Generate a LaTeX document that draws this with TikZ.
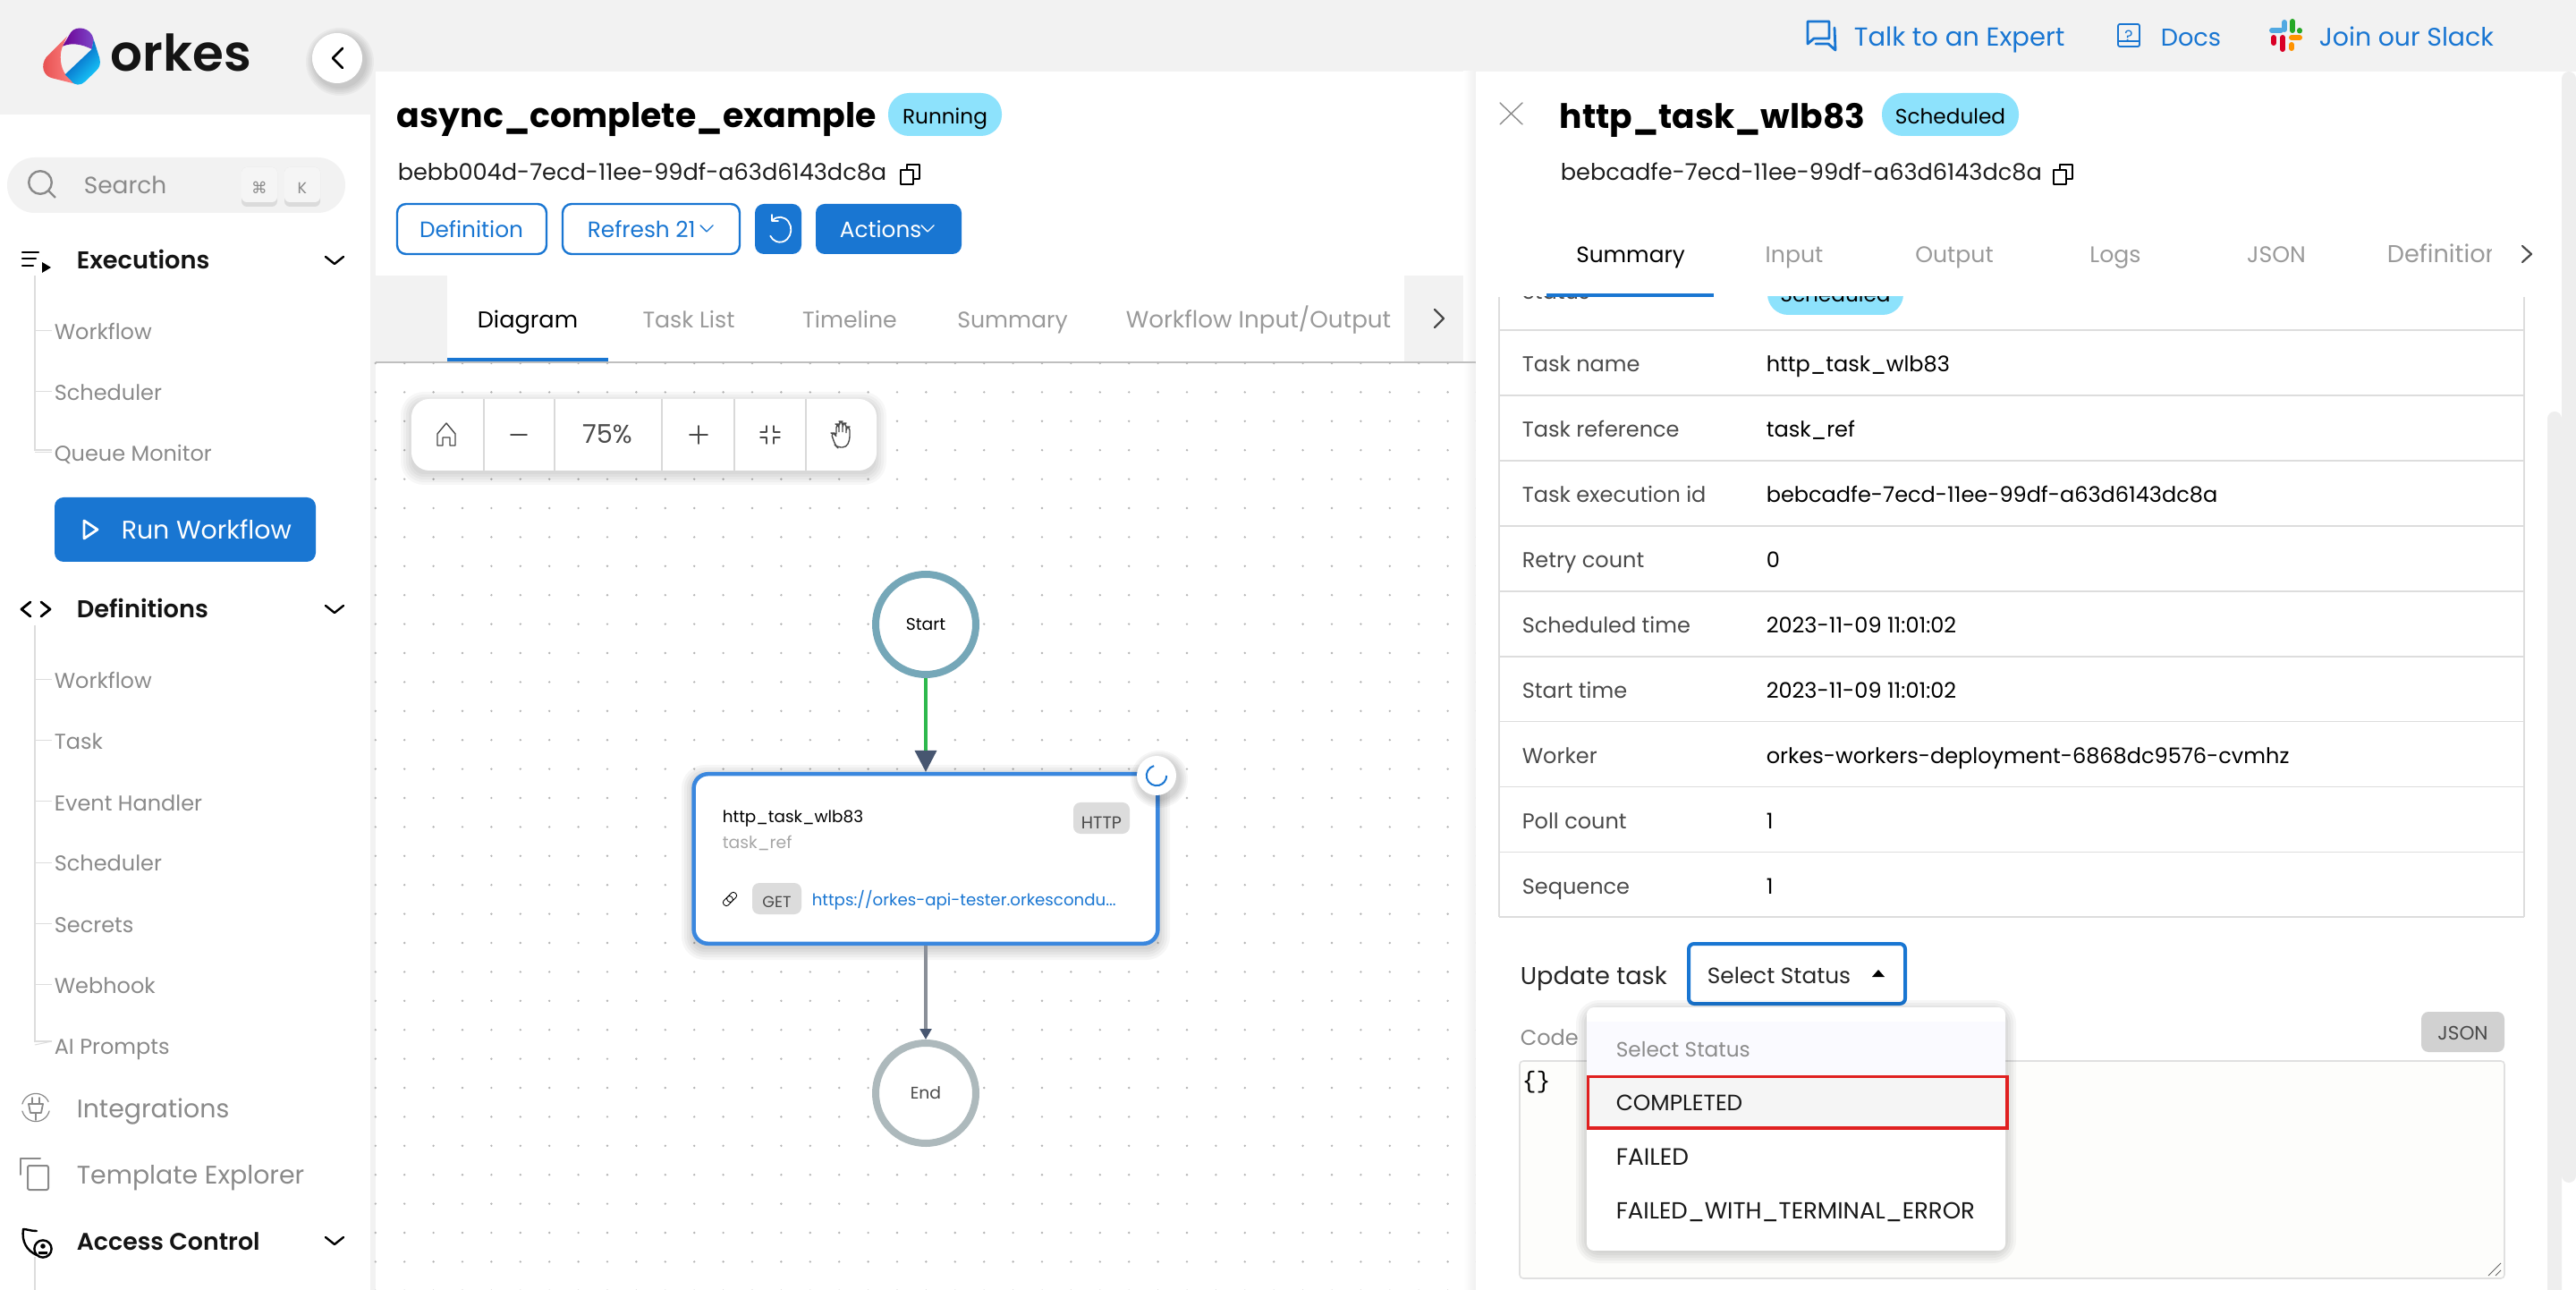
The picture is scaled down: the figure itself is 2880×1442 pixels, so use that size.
\documentclass[tikz,border=0pt]{standalone}
\usepackage{fontspec}
\setmainfont{Poppins}
\newfontfamily\symfont{DejaVu Sans}
\newfontfamily\monofont{Liberation Mono}
\newfontfamily\semifont{Poppins SemiBold}
\usetikzlibrary{
    arrows.meta,
    positioning
}
\definecolor{pagegrey}{HTML}{F2F2F2}
\definecolor{stripgrey}{HTML}{EEEEEE}
\definecolor{linegrey}{HTML}{DDDDDD}
\definecolor{badgegrey}{HTML}{DCDCDC}
\definecolor{softtext}{HTML}{8A8A8A}
\definecolor{tabtext}{HTML}{9A9A9A}
\definecolor{labeltext}{HTML}{4A4A4A}
\definecolor{inktext}{HTML}{141414}
\definecolor{orkesblue}{HTML}{1976D2}
\definecolor{taskblue}{HTML}{3A87DE}
\definecolor{pillblue}{HTML}{8DE2FC}
\definecolor{startring}{HTML}{75A7B8}
\definecolor{endring}{HTML}{ADB9BC}
\definecolor{tipslate}{HTML}{475670}
\definecolor{flowgreen}{HTML}{2DB84D}
\definecolor{flowgrey}{HTML}{8A8F98}
\definecolor{alertred}{HTML}{E02020}
\definecolor{griddot}{HTML}{B5B5B5}
\definecolor{codepaper}{HTML}{FDFDFB}
\tikzset{
    lbl/.style={inner sep=0pt,anchor=west,text height=.7em,text depth=0pt,yshift=1pt,font=\fontsize{#1}{#1}\selectfont},
    lbl/.default=6.2pt,
    lblc/.style={lbl=#1,anchor=center},
    lblc/.default=6.2pt,
    side/.style={lbl=6.0pt,softtext},
    head/.style={lbl=#1,font=\fontsize{#1}{#1}\semifont,inktext},
    head/.default=6.8pt,
    headsoft/.style={lbl=7.1pt,softtext},
    tabtxt/.style={lblc=6.3pt,tabtext},
    pill/.style={fill=pillblue,rounded corners=6pt},
    btnline/.style={draw=orkesblue,line width=.6pt,rounded corners=2.5pt,fill=white},
    btnfill/.style={fill=orkesblue,rounded corners=2.5pt},
    ringnode/.style={circle,draw=#1,line width=2pt,fill=white,minimum size=28pt,inner sep=0pt,
        font=\fontsize{4.7pt}{5pt}\selectfont},
    icon/.style={line width=.5pt,line cap=round,line join=round},
    treeln/.style={draw=linegrey,line width=.4pt},
    flow/.style={line width=.875pt}
}
% soft blurred edge under a box
\newcommand{\softbox}[5]{%
    \foreach \g in {2,5,8,11,14}
        \fill[black,opacity=#5,rounded corners={(\g*.25+3)*1pt}] ({#1-\g},{#2-\g+4}) rectangle ({#3+\g},{#4+\g+4});
}
\newcommand{\softdisc}[3]{%
    \foreach \g in {2,4,6,8,10}
        \fill[black,opacity=.035] (#1+3,#2+4) circle ({(#3+\g)*.25pt});
}
\newcommand{\copyicon}[2]{%
    \draw[icon,black,line width=.4pt] (#1+7,#2) rectangle (#1+21,#2+16);
    \draw[icon,black,fill=white,line width=.4pt] (#1,#2+6) rectangle (#1+14,#2+22);
}
\begin{document}
\begin{tikzpicture}[x=.25pt,y=-.25pt]
    \useasboundingbox (0,0) rectangle (2880,1442);
    \fill[pagegrey] (0,0) rectangle (2880,1442);
    % sidebar and main sheet
    \fill[white] (0,128) rectangle (414,1442);
    \fill[white] (420,80) rectangle (1650,1442);
    \fill[pagegrey] (420,308) rectangle (500,404);
    \fill[pagegrey] (1570,308) rectangle (1650,404);
    \shade[left color=white,right color=black!6] (1636,80) rectangle (1650,1442);

    % logo
    \begin{scope}[shift={(30,20)},scale=1/3]
        \shade[left color=red!55!pink!90!black,right color=red!50!white!90!pink]
            (135,62) -- (120,95) .. controls (108,125) and (112,165) .. (130,190)
            -- (165,222) -- (85,202) .. controls (55,195) and (45,160) .. (65,132) -- cycle;
        \shade[left color=violet!85!blue,right color=violet!60!white!70!blue]
            (120,95) -- (148,48) .. controls (165,25) and (215,30) .. (224,72) -- (218,105)
            .. controls (185,88) and (150,82) .. (120,95) -- cycle;
        \shade[left color=blue!60!cyan!70!black,right color=cyan!80!blue!90!white,shading angle=45]
            (224,72) -- (244,135) .. controls (248,155) and (245,165) .. (232,178)
            -- (195,214) .. controls (180,228) and (160,228) .. (148,210)
            -- (128,190) -- (218,105) -- cycle;
    \end{scope}
    \node[head=14.1pt,yshift=-2.2pt] (brand) at (123,61) {orkes};
    \softdisc{377}{65}{28}
    \node[circle,fill=white,minimum size=14pt,inner sep=0pt] (collapse) at (377,65) {};
    \draw[icon,line width=.7pt] (383,54) -- (372,65) -- (383,76);

    % search field
    \fill[pagegrey,rounded corners=7.7pt] (8,176) rectangle (386,238);
    \draw[softtext,line width=.6pt] (45,204) circle (3.2pt) (54,213) -- (62,221);
    \node[lbl=6.6pt,softtext] (searchtxt) at (93,207) {Search};
    \foreach \kx/\kname/\ktxt in {270/cmdkey/{\symfont ⌘},318/kkey/K}{
        \fill[black!14,rounded corners=1.5pt] (\kx,187) rectangle (\kx+40,231);
        \fill[black!4,rounded corners=1.5pt] (\kx,187) rectangle (\kx+40,226);
        \node[lblc=4.4pt,softtext] (\kname) at (\kx+20,207) {\ktxt};
    }

    % executions menu
    \draw[icon,line width=.55pt] (25,282) -- (43,282) (25,289) -- (40,289) (25,297) -- (37,297);
    \fill (47,293) -- (57,299) -- (47,305) -- cycle;
    \node[head] (execs) at (85,291) {Executions};
    \draw[icon,line width=.6pt] (364,287) -- (374,295) -- (384,287);
    \draw[treeln] (39,308) -- (39,503) -- (58,503);
    \foreach \ty/\tname/\ttxt in {370/exwf/Workflow,438/exsched/Scheduler,506/exqueue/Queue Monitor}{
        \draw[treeln,line width=.25pt] (39,\ty) -- (58,\ty);
        \node[side] (\tname) at (60,\ty) {\ttxt};
    }
    \fill[orkesblue,rounded corners=2.5pt] (61,556) rectangle (353,628);
    \draw[icon,white,line width=.7pt] (94,582) -- (109,592) -- (94,602) -- cycle;
    \node[lbl=7.1pt,white] (runwf) at (135,593) {Run Workflow};

    % definitions menu
    \draw[icon,line width=.7pt] (34,673) -- (24,681) -- (34,689) (46,673) -- (56,681) -- (46,689);
    \node[head] (defs) at (85,681) {Definitions};
    \draw[icon,line width=.6pt] (364,677) -- (374,685) -- (384,677);
    \draw[treeln] (39,699) -- (39,1164) -- (58,1164);
    \foreach \ty/\tname/\ttxt in {760/dfwf/Workflow,828/dftask/Task,896/dfevent/Event Handler,964/dfsched/Scheduler,1032/dfsec/Secrets,1100/dfhook/Webhook,1168/dfai/AI Prompts}{
        \draw[treeln,line width=.25pt] (39,\ty) -- (58,{min(\ty,1164)});
        \node[side] (\tname) at (60,\ty) {\ttxt};
    }

    % lower sidebar entries
    \draw[icon,softtext,line width=.3pt] (40,1238) ++(165:3.9pt) arc (165:25:3.9pt);
    \draw[icon,softtext,line width=.3pt] (40,1238) ++(-15:3.9pt) arc (-15:-165:3.9pt);
    \draw[icon,softtext,line width=.45pt] (32,1234) -- (48,1234) -- (46,1244) -- (34,1244) -- cycle
        (36,1227) -- (36,1234) (44,1227) -- (44,1234) (40,1244) -- (40,1252);
    \node[headsoft] (integ) at (85,1239) {Integrations};
    \draw[icon,softtext,line width=.5pt] (23,1313) -- (23,1295) -- (45,1295);
    \draw[icon,softtext,line width=.5pt,rounded corners=.5pt] (31,1303) rectangle (54,1330);
    \node[headsoft] (tmpl) at (85,1313) {Template Explorer};
    \draw[icon,line width=.6pt] (41,1376) .. controls (34,1376) and (30,1374) .. (26,1374)
        .. controls (24,1388) and (30,1398) .. (41,1403);
    \draw[icon,line width=.6pt] (48,1396) circle (2.4pt);
    \fill (48,1393) circle (.7pt) (43,1402) rectangle (53,1399);
    \node[head=6.7pt] (access) at (85,1387) {Access Control};
    \draw[icon,line width=.6pt] (364,1383) -- (374,1391) -- (384,1383);
    \draw[treeln] (39,1405) -- (39,1442);

    % top links
    \draw[icon,orkesblue,line width=.7pt] (2021,24) -- (2045,24) -- (2045,43) -- (2028,43) -- (2021,49) -- cycle;
    \draw[icon,orkesblue,line width=.7pt] (2051,31) -- (2052,56) -- (2044,49) -- (2030,49);
    \node[lbl=7.25pt,orkesblue] (talk) at (2072,42) {Talk to an Expert};
    \draw[icon,orkesblue,line width=.45pt,rounded corners=.5pt] (2368,27) rectangle (2392,52);
    \draw[icon,orkesblue,line width=.45pt] (2368,46) -- (2392,46);
    \node[lblc=4.4pt,orkesblue] (docsq) at (2380,37) {?};
    \node[lbl=6.8pt,orkesblue] (docs) at (2415,42) {Docs};
    \begin{scope}[line cap=round,line width=1.5pt]
        \draw[cyan!75!blue!70] (2540,34) -- (2550,34);
        \draw[cyan!75!blue!70] (2554,25) -- (2554,33);
        \draw[green!60!black!85] (2563,24) -- (2563,34);
        \draw[green!60!black!85] (2571,34) -- (2571,34.5);
        \draw[orange!85!yellow] (2562,42) -- (2571,42);
        \draw[orange!85!yellow] (2562,50) -- (2562,54);
        \draw[red!85!blue] (2542,42) -- (2542,48);
        \draw[red!85!blue] (2552,42) -- (2552,55);
    \end{scope}
    \node[lbl=7.1pt,orkesblue] (slack) at (2592,42) {Join our Slack};

    % workflow header
    \node[lbl=9.47pt,font=\fontsize{9.47pt}{9.47pt}\selectfont\bfseries,yshift=-1pt] (wftitle) at (443,129) {async\_complete\_example};
    \fill[pill,rounded corners=5.8pt] (993,104) rectangle (1120,152);
    \node[lblc=5.8pt] (wfstate) at (1056.5,129) {Running};
    \node[lbl=6.4pt,labeltext!40!black] (wfid) at (444,192) {bebb004d-7ecd-11ee-99df-a63d6143dc8a};
    \copyicon{1007}{184}
    \draw[btnline] (444,228) rectangle (611,284);
    \node[lblc=6.2pt,orkesblue] (btndef) at (527,256) {Definition};
    \draw[btnline] (629,228) rectangle (827,284);
    \node[lbl=6.2pt,orkesblue] (btnrefresh) at (656,256) {Refresh 21};
    \draw[icon,orkesblue,line width=.35pt] (783,252) -- (790,259) -- (797,252);
    \fill[btnfill] (844,228) rectangle (896,284);
    \draw[icon,white,line width=.45pt] (864,246) arc (130:-150:3.1pt and 3.5pt);
    \draw[icon,white,line width=.45pt] (863,240) -- (863,247) -- (870,247);
    \fill[btnfill] (912,228) rectangle (1075,284);
    \node[lbl=6.2pt,white] (btnact) at (938,256) {Actions};
    \draw[icon,white,line width=.35pt] (1030,252) -- (1037,259) -- (1044,252);

    % workflow tabs
    \node[lblc=6.4pt,black] (wtdiag) at (590,357) {Diagram};
    \foreach \tx/\tname/\ttxt in {770/wtlist/Task List,950/wttime/Timeline,1132/wtsum/Summary}{
        \node[tabtxt] (\tname) at (\tx,357) {\ttxt};
    }
    \node[tabtxt,font=\fontsize{6.55pt}{6.55pt}\selectfont] (wtio) at (1407,357) {Workflow Input/Output};
    \draw[icon,labeltext,line width=.55pt] (1604,346) -- (1614,356) -- (1604,366);
    \draw[black!25,line width=.5pt] (420,405) -- (1650,405);
    \fill[orkesblue] (500,400) rectangle (680,404);

    % canvas dots
    \foreach \gx in {0,...,38}
        \foreach \gy in {0,...,32}
            \fill[griddot] ({419.8+\gx*32.4},{406+\gy*32.4}) circle (.33pt);

    % zoom toolbar
    \softbox{462}{448}{977}{524}{.03}
    \fill[white,rounded corners=5pt] (460,446) rectangle (980,526);
    \foreach \dx in {541,620,740,821,901}
        \draw[black!15,line width=.35pt] (\dx,446) -- (\dx,526);
    \draw[icon,labeltext,line width=.35pt] (489,485) -- (499,473) -- (509,485) -- (509,498) -- (503,498) -- (503,489) -- (495,489) -- (495,498) -- (489,498) -- cycle;
    \draw[icon,labeltext,line width=.4pt] (571,486) -- (589,486);
    \node[lblc=7.2pt,labeltext] (zoomval) at (679,486) {75\%};
    \draw[icon,labeltext,line width=.4pt] (771,486) -- (791,486) (781,476) -- (781,496);
    \draw[icon,labeltext,line width=.35pt] (857,476) -- (857,483) -- (850,483) (865,476) -- (865,483) -- (872,483)
        (857,496) -- (857,489) -- (850,489) (865,496) -- (865,489) -- (872,489);
    \draw[icon,labeltext,line width=.35pt,rounded corners=1pt] (934,498) -- (929,484) -- (933,484) -- (935,488)
        -- (935,474) -- (938,474) -- (938,485) -- (938,471) -- (942,471) -- (942,485) -- (942,473) -- (946,473)
        -- (946,486) -- (946,477) -- (950,477) -- (950,492) -- (946,500) -- (936,500) -- cycle;

    % workflow graph
    \node[ringnode=startring] (start) at (1035,698) {Start};
    \softbox{776}{865}{1294}{1055}{.035}
    \node[draw=taskblue,line width=1.125pt,fill=white,rounded corners=4pt,minimum width=129.7pt,minimum height=47.4pt,inner sep=0pt] (task) at (1035,960) {};
    \node[ringnode=endring,text=labeltext] (end) at (1035,1222) {End};
    \draw[flow,flowgreen,-{Triangle[length=6pt,width=6pt,color=tipslate]}] (start) -- (task);
    \draw[flow,flowgrey,-{Triangle[length=3pt,width=3.2pt,color=tipslate]}] (task) -- (end);
    \softdisc{1293}{867}{22}
    \node[circle,fill=white,minimum size=11pt,inner sep=0pt] (spin) at (1293,867) {};
    \draw[orkesblue,line width=.5pt] (1293,867) ++(105:2.8pt) arc (105:360:2.8pt);
    \node[lbl=4.6pt] (taskname) at (807,909) {http\_task\_wlb83};
    \node[lbl=4.7pt,black!35] (taskref) at (807,938) {task\_ref};
    \fill[badgegrey,rounded corners=2pt] (1200,897) rectangle (1263,932);
    \node[lblc=4.8pt,labeltext,yshift=-.4pt] (taskkind) at (1231.5,915) {HTTP};
    \draw[icon,line width=.22pt,rounded corners=.7pt,rotate around={45:(816,1005)}] (807,1001.5) rectangle (819,1008.5) (813,1001.5) rectangle (825,1008.5);
    \fill[badgegrey,rounded corners=2pt] (841,987) rectangle (896,1022);
    \node[lblc=4.4pt,labeltext,yshift=-.4pt] (taskverb) at (868.5,1003) {GET};
    \node[lbl=4.55pt,orkesblue] (taskurl) at (907,1002) {https://orkes-api-tester.orkescondu...};

    % detail panel
    \fill[white] (1650,80) rectangle (2880,1442);
    \fill[stripgrey,rounded corners=2pt] (2864,80) rectangle (2880,1322);
    \fill[stripgrey,rounded corners=2pt] (2848,460) rectangle (2864,1460);
    \fill[stripgrey] (2862,500) rectangle (2866,1310);
    % clipped first row of the table
    \begin{scope}
        \clip (1676,332) rectangle (2822,369);
        \fill[pill,rounded corners=5.8pt] (1976,304) rectangle (2128,352);
        \node[lblc=5.8pt] (rowstate) at (2052,328) {Scheduled};
        \node[lbl=6pt,labeltext] (rowstatus) at (1701,325) {Status};
    \end{scope}
    \draw[linegrey,line width=.3pt] (1676,332) -- (1676,1025) (2822,332) -- (2822,1025);
    \foreach \rlab/\rval [count=\ri from 0] in {Task name/http\_task\_wlb83,Task reference/task\_ref,Task execution id/bebcadfe-7ecd-11ee-99df-a63d6143dc8a,Retry count/0,Scheduled time/2023-11-09 11:01:02,Start time/2023-11-09 11:01:02,Worker/orkes-workers-deployment-6868dc9576-cvmhz,Poll count/1,Sequence/1}{
        \pgfmathsetmacro{\ry}{406+\ri*72.95}
        \pgfmathsetmacro{\rl}{369+\ri*72.95}
        \draw[linegrey,line width=.4pt] (1676,\rl) -- (2822,\rl);
        \node[lbl=6pt,labeltext] (rowlab\ri) at (1701,\ry) {\rlab};
        \node[lbl=6pt,black] (rowval\ri) at (1974,\ry) {\rval};
    }
    \draw[linegrey,line width=.4pt] (1676,1025) -- (2822,1025);

    % detail header
    \draw[icon,black!45,line width=.35pt] (1677,115) -- (1702,139) (1702,115) -- (1677,139);
    \node[lbl=9.4pt,font=\fontsize{9.4pt}{9.4pt}\selectfont\bfseries,yshift=-1pt] (tasktitle) at (1743,130) {http\_task\_wlb83};
    \fill[pill,rounded corners=5.8pt] (2104,104) rectangle (2257,152);
    \node[lblc=5.8pt] (taskstate) at (2180.5,129) {Scheduled};
    \node[lbl=6.4pt,labeltext!40!black] (taskid) at (1744,192) {bebcadfe-7ecd-11ee-99df-a63d6143dc8a};
    \copyicon{2296}{184}
    \node[lblc=6.2pt,black] (dtsum) at (1823,284) {Summary};
    \foreach \tx/\tname/\ttxt in {2006/dtin/Input,2185/dtout/Output,2365/dtlog/Logs,2545/dtjson/JSON}{
        \node[tabtxt] (\tname) at (\tx,284) {\ttxt};
    }
    \begin{scope}
        \clip (2660,260) rectangle (2785,310);
        \node[tabtxt,anchor=west,font=\fontsize{6.8pt}{6.8pt}\selectfont] (dtdef) at (2668,284) {Definition};
    \end{scope}
    \draw[icon,labeltext,line width=.55pt] (2820,275) -- (2830,284) -- (2820,293);
    \fill[orkesblue] (1729,328) rectangle (1916,332);

    % update form
    \node[lbl=6.8pt,black!85] (updlab) at (1699,1090) {Update task};
    \draw[orkesblue,line width=1pt,rounded corners=1.5pt,fill=white] (1888,1055) rectangle (2130,1122);
    \node[lbl=6.2pt,black!85] (selstat) at (1908,1089) {Select Status};
    \fill[black] (2093,1092) -- (2107,1092) -- (2100,1084) -- cycle;
    \node[lbl=6pt,softtext] (codelab) at (1699,1158) {Code};
    \fill[badgegrey!95!black,rounded corners=2pt] (2707,1131) rectangle (2800,1176);
    \node[lblc=5.4pt,labeltext] (jsonbtn) at (2753.5,1152) {JSON};
    \draw[black!12,line width=.4pt,fill=codepaper,rounded corners=1pt] (1699,1186) rectangle (2800,1429);
    \node[lbl=6.6pt,font=\fontsize{6.6pt}{6.6pt}\monofont,black] (codeval) at (1701,1206) {\{\}};
    \draw[black!60,line width=.25pt] (2782,1426) -- (2796,1412) (2790,1426) -- (2796,1420);

    % status menu
    \softbox{1776}{1128}{2240}{1394}{.035}
    \fill[white,rounded corners=2pt] (1774,1126) rectangle (2242,1398);
    \fill[blue!2!white] (1774,1142) rectangle (2242,1202);
    \node[lbl=5.8pt,black!45] (optnone) at (1806,1171) {Select Status};
    \draw[alertred,line width=.8pt,fill=black!4] (1775.5,1203.5) rectangle (2244,1261);
    \node[lbl=6.2pt,black!90] (optdone) at (1806,1231) {COMPLETED};
    \node[lbl=6.6pt,black!90] (optfail) at (1806,1292) {FAILED};
    \node[lbl=6.5pt,black!90] (optterm) at (1806,1352) {FAILED\_WITH\_TERMINAL\_ERROR};
\end{tikzpicture}
\end{document}
